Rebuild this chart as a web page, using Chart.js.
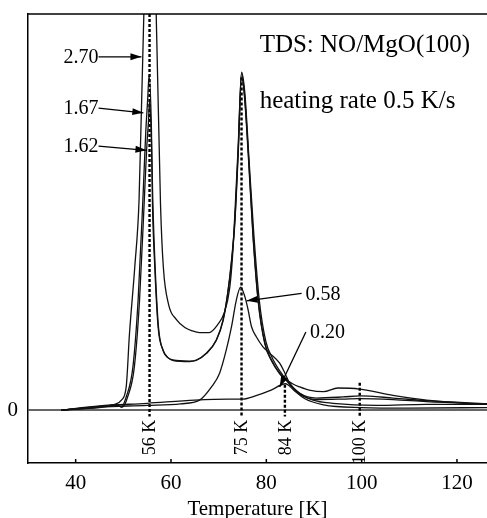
<!DOCTYPE html>
<html>
<head>
<meta charset="utf-8">
<script src="https://cdn.jsdelivr.net/npm/chart.js@4/dist/chart.umd.min.js"></script>
<style>
  html, body { margin: 0; padding: 0; background: #fff; }
  #wrap { width: 487px; height: 518px; }
</style>
</head>
<body>
<div id="wrap"><canvas id="tds"></canvas></div>
<script>
// TDS spectra, temperature [K] vs. signal (arb. units), one pair of arrays per coverage
const temp270 = [37, 45, 48.2, 49.6, 50.6, 51.3, 52.4, 53.3, 54.3, 55.6, 56.9, 57.8, 58.4, 59.5, 61.1, 63, 64.5, 66, 68, 69.8, 71.2, 72.3, 72.9, 73.5, 74.1, 74.8, 75.5, 76.4, 77.4, 78.5, 79.9, 81.3, 83, 84.2, 85.5, 87, 89, 92, 95, 99.6, 106.6, 113.6, 120.6, 127];
const val270  = [0, 0.07, 0.11, 0.19, 0.44, 1.46, 2.71, 3.98, 7.48, 10.5, 7.48, 3.9, 2.7, 2.0, 1.72, 1.56, 1.5, 1.47, 1.47, 1.62, 1.85, 2.3, 2.9, 3.9, 5.0, 6.4, 6.0, 4.7, 3.3, 2.1, 1.3, 0.98, 0.72, 0.58, 0.5, 0.44, 0.38, 0.35, 0.42, 0.4, 0.28, 0.19, 0.14, 0.11];

const temp167 = [37, 45, 48.5, 49.6, 50.6, 52, 53.1, 54.1, 54.7, 55.1, 55.4, 55.9, 56.1, 56.6, 57.3, 58.3, 59.3, 60.4, 63.9, 65.3, 67.4, 69.5, 70.9, 71.9, 72.7, 73.4, 74.1, 74.8, 75.4, 76.2, 77.2, 78.3, 79.7, 81.1, 82.8, 84.2, 87, 90.5, 96.1, 99.6, 106.6, 113.6, 127];
const val167  = [0, 0.06, 0.1, 0.06, 0.25, 0.81, 2.08, 3.98, 5.25, 5.87, 6.34, 5.3, 3.98, 2.71, 1.57, 1.14, 1.0, 0.95, 0.93, 0.95, 1.08, 1.33, 1.7, 2.22, 2.84, 3.6, 4.92, 6.38, 6.0, 4.92, 3.35, 2.08, 1.27, 0.95, 0.7, 0.57, 0.32, 0.23, 0.25, 0.27, 0.23, 0.18, 0.12];

const temp162 = [37, 45, 48.6, 49.8, 50.9, 52.3, 53.4, 54.4, 54.9, 55.3, 55.5, 55.9, 56.2, 56.7, 57.4, 58.4, 59.4, 60.5, 63.9, 65.3, 67.4, 69.5, 70.9, 71.9, 72.7, 73.4, 74.1, 74.8, 75.4, 76.2, 77.2, 78.3, 79.7, 81.1, 82.8, 84.2, 87, 90.5, 96.1, 99.6, 106.6, 113.6, 127];
const val162  = [0, 0.05, 0.09, 0.06, 0.25, 0.81, 2.08, 3.98, 4.95, 5.5, 5.85, 5.1, 3.9, 2.65, 1.55, 1.12, 0.99, 0.94, 0.92, 0.94, 1.07, 1.32, 1.68, 2.2, 2.8, 3.55, 4.85, 6.3, 5.95, 4.85, 3.3, 2.05, 1.25, 0.93, 0.69, 0.56, 0.3, 0.2, 0.21, 0.22, 0.2, 0.16, 0.11];

const temp058 = [37, 45, 55, 62, 66, 68.5, 70.2, 71.6, 72.7, 73.7, 74.6, 75.5, 76.2, 76.9, 77.9, 79.3, 80.7, 82.8, 83.9, 84.9, 87, 89.8, 94, 103.1, 113.6, 127];
const val058  = [0, 0.06, 0.09, 0.12, 0.19, 0.44, 0.7, 1.14, 1.58, 2.08, 2.33, 2.15, 1.89, 1.58, 1.39, 1.2, 1.08, 0.89, 0.7, 0.51, 0.32, 0.19, 0.13, 0.09, 0.11, 0.11];

const temp020 = [37, 45, 55, 65, 72, 75, 78, 81, 84, 86, 88, 92, 100, 110, 127];
const val020  = [0, 0.08, 0.13, 0.19, 0.21, 0.21, 0.28, 0.38, 0.5, 0.36, 0.22, 0.1, 0.05, 0.04, 0.05];

// peak markers (dashed lines)
const markerTemps  = [55.5, 74.8, 83.9, 99.6];
const markerTops   = [7.5, 6.3, 0.48, 0.52];
const markerLabels = ['56 K', '75 K', '84 K', '100 K'];

// coverage labels with arrows: label, arrow start (T, v), arrow tip (T, v), side of the text
const coverageLabels = ['2.70', '1.67', '1.62', '0.58', '0.20'];
const arrowFrom = [[44.8, 6.69], [44.8, 5.72], [44.8, 5.0], [87.4, 2.21], [88.3, 1.48]];
const arrowTo   = [[53.8, 6.69], [54.2, 5.63], [54.85, 4.92], [75.85, 2.07], [82.8, 0.44]];
const labelSide = ['left', 'left', 'left', 'right', 'right'];

const xTicks = [40, 60, 80, 100, 120];
const yTicks = [0];

const serif = '"Liberation Serif", "Times New Roman", serif';

const pairs = (xs, ys) => xs.map((x, i) => ({ x: x, y: ys[i] }));

const curve = (label, xs, ys) => ({
    label: label,
    data: pairs(xs, ys),
    borderColor: '#111',
    borderWidth: 1.3,
    pointRadius: 0,
    tension: 0.25,
    cubicInterpolationMode: 'monotone',
});

const markerSets = markerTemps.map((t, i) => ({
    label: markerLabels[i],
    data: [{ x: t, y: markerTops[i] }, { x: t, y: -0.12 }],
    borderColor: '#000',
    borderWidth: 2.4,
    borderDash: [3, 2],
    pointRadius: 0,
}));

const arrow = (ctx, x0, y0, x1, y1) => {
    ctx.beginPath();
    ctx.moveTo(x0, y0);
    ctx.lineTo(x1, y1);
    ctx.lineWidth = 1.3;
    ctx.stroke();
    const a = Math.atan2(y1 - y0, x1 - x0);
    ctx.beginPath();
    ctx.moveTo(x1, y1);
    ctx.lineTo(x1 - 11 * Math.cos(a) + 3.5 * Math.sin(a), y1 - 11 * Math.sin(a) - 3.5 * Math.cos(a));
    ctx.lineTo(x1 - 11 * Math.cos(a) - 3.5 * Math.sin(a), y1 - 11 * Math.sin(a) + 3.5 * Math.cos(a));
    ctx.closePath();
    ctx.fill();
};

const noEdgePadding = (scale) => {
    scale.paddingTop = 0;
    scale.paddingBottom = 0;
    scale.paddingLeft = 0;
    scale.paddingRight = 0;
};

const decorations = {
    id: 'decorations',
    afterDatasetsDraw(chart) {
        const ctx = chart.ctx;
        const xs = chart.scales.x;
        const ys = chart.scales.y;
        const area = chart.chartArea;
        ctx.save();
        ctx.fillStyle = '#000';
        ctx.strokeStyle = '#000';

        // frame top + inward ticks on the temperature axis
        ctx.lineWidth = 1.5;
        ctx.beginPath();
        ctx.moveTo(area.left, area.top);
        ctx.lineTo(area.right, area.top);
        ctx.stroke();
        xTicks.forEach(t => {
            const px = xs.getPixelForValue(t);
            ctx.beginPath();
            ctx.moveTo(px, area.bottom);
            ctx.lineTo(px, area.bottom - 4);
            ctx.stroke();
        });

        // rotated peak labels
        ctx.font = '18px ' + serif;
        ctx.textBaseline = 'middle';
        markerTemps.forEach((t, i) => {
            ctx.save();
            ctx.translate(xs.getPixelForValue(t) + 1, ys.getPixelForValue(-0.18));
            ctx.rotate(-Math.PI / 2);
            ctx.textAlign = 'right';
            ctx.fillText(markerLabels[i], 0, 0);
            ctx.restore();
        });

        // coverage labels
        ctx.font = '20px ' + serif;
        coverageLabels.forEach((lab, i) => {
            const x0 = xs.getPixelForValue(arrowFrom[i][0]);
            const y0 = ys.getPixelForValue(arrowFrom[i][1]);
            const x1 = xs.getPixelForValue(arrowTo[i][0]);
            const y1 = ys.getPixelForValue(arrowTo[i][1]);
            arrow(ctx, x0, y0, x1, y1);
            if (labelSide[i] === 'left') {
                ctx.textAlign = 'right';
                ctx.fillText(lab, x0, y0 + 1);
            } else {
                ctx.textAlign = 'left';
                ctx.fillText(lab, x0 + 4, y0 + 1);
            }
        });

        // title text
        ctx.font = '25px ' + serif;
        ctx.textAlign = 'left';
        ctx.textBaseline = 'alphabetic';
        ctx.fillText('TDS: NO/MgO(100)', xs.getPixelForValue(78.6), ys.getPixelForValue(6.78));
        ctx.fillText('heating rate 0.5 K/s', xs.getPixelForValue(78.6), ys.getPixelForValue(5.72));
        ctx.restore();
    }
};

new Chart(document.getElementById('tds'), {
    type: 'line',
    data: {
        datasets: [
            curve('2.70', temp270, val270),
            curve('1.67', temp167, val167),
            curve('1.62', temp162, val162),
            curve('0.58', temp058, val058),
            curve('0.20', temp020, val020),
            ...markerSets,
        ]
    },
    options: {
        responsive: true,
        maintainAspectRatio: false,
        animation: false,
        layout: {
            padding: { top: 14, right: 0, left: 0, bottom: 0 }
        },
        plugins: {
            legend: { display: false },
            tooltip: { enabled: false },
        },
        scales: {
            x: {
                type: 'linear',
                min: 30,
                max: 126.3,
                afterBuildTicks: (scale) => { scale.ticks = xTicks.map(v => ({ value: v })) },
                afterFit: (scale) => { scale.height = 55; noEdgePadding(scale) },
                grid: { display: false, drawTicks: false },
                border: { display: true, color: '#000', width: 1.5 },
                ticks: {
                    color: '#000',
                    font: { family: serif, size: 21 },
                    padding: 8,
                    maxRotation: 0,
                },
                title: {
                    display: true,
                    text: 'Temperature [K]',
                    color: '#000',
                    font: { family: serif, size: 21 },
                    padding: { top: 0, bottom: -4 },
                }
            },
            y: {
                type: 'linear',
                min: -1,
                max: 7.5,
                afterBuildTicks: (scale) => { scale.ticks = yTicks.map(v => ({ value: v })) },
                afterFit: (scale) => { scale.width = 28; noEdgePadding(scale) },
                grid: {
                    color: '#666',
                    lineWidth: 2,
                    drawTicks: false,
                },
                border: { display: true, color: '#000', width: 1.5 },
                ticks: {
                    color: '#000',
                    font: { family: serif, size: 21 },
                    padding: 10,
                }
            }
        }
    },
    plugins: [decorations]
});
</script>
</body>
</html>
